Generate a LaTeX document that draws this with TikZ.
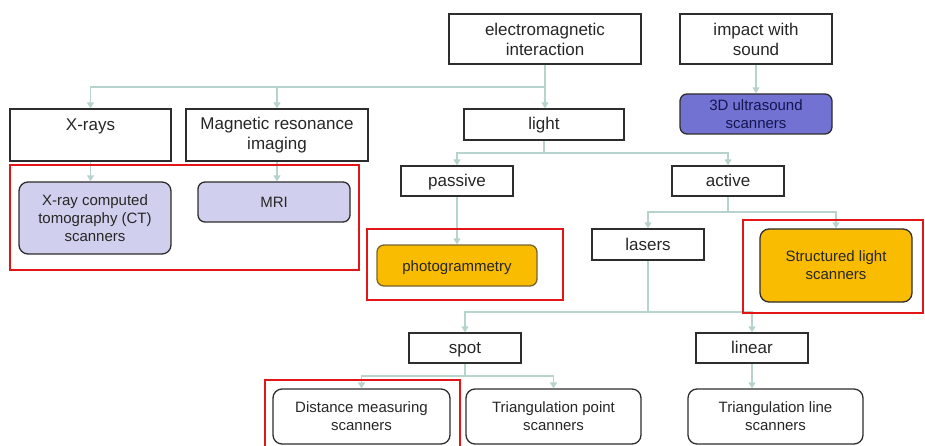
\documentclass[tikz,border=0pt]{standalone}
\usepackage{fontspec}
\setmainfont{Liberation Sans}
\usetikzlibrary{arrows.meta}

\definecolor{linkc}{RGB}{184,210,206}
\definecolor{boxline}{RGB}{45,45,45}
\definecolor{lavender}{RGB}{208,208,238}
\definecolor{usblue}{RGB}{114,114,210}
\definecolor{usnavy}{RGB}{20,20,80}
\definecolor{gold}{RGB}{250,188,0}
\definecolor{goldline}{RGB}{120,100,50}
\definecolor{hotred}{RGB}{226,22,22}

\begin{document}
\begin{tikzpicture}[x=1pt,y=-1pt,
    cat/.style={draw=boxline,line width=1.3pt,text=black!85,align=center,inner sep=0pt,
        font=\fontsize{17}{20}\selectfont},
    scan/.style={draw=boxline,line width=1.3pt,rounded corners=9pt,text=black!85,align=center,
        inner sep=0pt,font=\fontsize{15}{18}\selectfont},
    oneline/.style={text height=13pt,text depth=2pt},
    link/.style={draw=linkc,line width=1.3pt},
    arr/.style={link,-{Triangle[width=7pt,length=6pt]}},
    hot/.style={draw=hotred,line width=2pt}]
    \useasboundingbox (0,0) rectangle (925,446);

    % categories
    \node[cat,minimum width=192pt,minimum height=50pt] (em) at (545,39) {electromagnetic\\interaction};
    \node[cat,minimum width=152pt,minimum height=50pt] (sound) at (756,39) {impact with\\sound};
    \node[cat,minimum width=161pt,minimum height=52pt] (xray) at (90.5,135) {X-rays\\\mbox{}};
    \node[cat,minimum width=182pt,minimum height=52pt] (mrimg) at (277,135) {Magnetic resonance\\imaging};
    \node[cat,oneline,minimum width=160pt,minimum height=31pt] (light) at (544,124.5) {light};
    \node[cat,oneline,minimum width=112pt,minimum height=30pt] (passive) at (457,181) {passive};
    \node[cat,oneline,minimum width=112pt,minimum height=30pt] (active) at (728,181) {active};
    \node[cat,oneline,minimum width=112pt,minimum height=31pt] (lasers) at (648,244.5) {lasers};
    \node[cat,oneline,minimum width=112pt,minimum height=30pt] (spot) at (465,348) {spot};
    \node[cat,oneline,minimum width=112pt,minimum height=30pt] (linear) at (752,348) {linear};

    % scanner types
    \node[scan,fill=usblue,text=usnavy,rounded corners=7pt,minimum width=152pt,minimum height=40pt] (us) at (756,114) {3D ultrasound\\scanners};
    \node[scan,fill=lavender,minimum width=152pt,minimum height=72pt] (ct) at (95,218) {X-ray computed\\tomography (CT)\\scanners};
    \node[scan,oneline,fill=lavender,rounded corners=7pt,minimum width=152pt,minimum height=40pt] (mri) at (274,202) {MRI};
    \node[scan,oneline,fill=gold,draw=goldline,rounded corners=7pt,minimum width=160pt,minimum height=41pt] (photo) at (457,265.5) {photogrammetry};
    \node[scan,fill=gold,minimum width=152pt,minimum height=73pt] (struct) at (836,265.5) {Structured light\\scanners};
    \node[scan,minimum width=177pt,minimum height=55pt] (dist) at (361.5,416.5) {Distance measuring\\scanners};
    \node[scan,minimum width=175pt,minimum height=55pt] (tripoint) at (553.5,416.5) {Triangulation point\\scanners};
    \node[scan,minimum width=175pt,minimum height=55pt] (triline) at (775.5,416.5) {Triangulation line\\scanners};

    % branch points
    \coordinate (emsplit) at (545,87);
    \coordinate (lsplit) at (544,153);
    \coordinate (asplit) at (728,212);
    \coordinate (lasplit) at (648,312);
    \coordinate (ssplit) at (465,376);

    \draw[arr] (em.south) -- (em.south |- light.north);
    \draw[arr] (emsplit) -| (xray);
    \draw[arr] (emsplit) -| (mrimg);
    \draw[arr] (sound) -- (us);
    \draw[arr] (xray.south) -- (xray.south |- ct.north);
    \draw[arr] (mrimg.south) -- (mrimg.south |- mri.north);
    \draw[link] (light) -- (lsplit);
    \draw[arr] (lsplit) -| (passive);
    \draw[arr] (lsplit) -| (active);
    \draw[arr] (passive) -- (photo);
    \draw[link] (active) -- (asplit);
    \draw[arr] (asplit) -| (lasers);
    \draw[arr] (asplit) -| (struct);
    \draw[link] (lasers) -- (lasplit);
    \draw[arr] (lasplit) -| (spot);
    \draw[arr] (lasplit) -| (linear);
    \draw[link] (spot) -- (ssplit);
    \draw[arr] (ssplit) -| (dist);
    \draw[arr] (ssplit) -| (tripoint);
    \draw[arr] (linear.south) -- (linear.south |- triline.north);

    % highlighted groups
    \draw[hot] (10,165) rectangle (359,270);
    \draw[hot] (367,229) rectangle (563,300);
    \draw[hot] (743,220) rectangle (923,313);
    \draw[hot] (265,380) rectangle (460,452);
\end{tikzpicture}
\end{document}
